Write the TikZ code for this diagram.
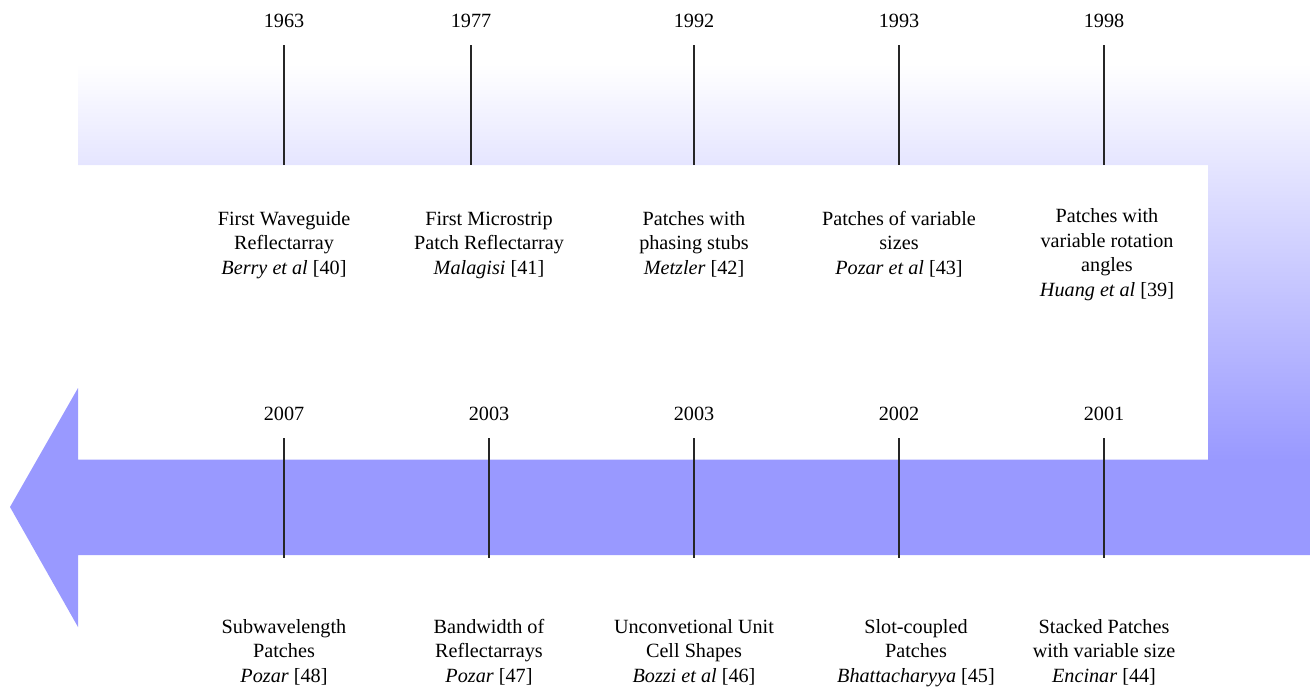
\documentclass[tikz,border=0pt]{standalone}
\usepackage{fontspec}
\setmainfont{Liberation Serif}
\definecolor{arrowblue}{RGB}{153,153,255}
\begin{document}
\begin{tikzpicture}[x=1pt,y=-1pt,
  yearlbl/.style={anchor=base,inner sep=0pt,font=\fontsize{20.2}{24.5}\selectfont},
  desc/.style={anchor=base,inner sep=0pt,align=center,font=\fontsize{20.2}{24.5}\selectfont},
  tick/.style={line width=2pt,draw=black!85}]
\useasboundingbox (0,0) rectangle (1310,691);
% gradient L-shaped band
\shade[top color=white,bottom color=arrowblue]
  (78,64) -- (1310,64) -- (1310,460) -- (1208,460) -- (1208,165) -- (78,165) -- cycle;
% solid arrow band
\fill[arrowblue] (1310,459.5) -- (1310,555) -- (78,555) -- (78,627) -- (10,507)
  -- (78,388) -- (78,459.5) -- cycle;
% top row
\foreach \n/\x/\yr in {1/284/1963,2/471/1977,3/694/1992,4/899/1993,5/1104/1998}{
  \node[yearlbl] (y\n) at (\x,27) {\yr};
  \coordinate (ta\n) at (\x,45);
  \coordinate (tb\n) at (\x,165);
  \draw[tick] (ta\n) -- (tb\n);
}
% bottom row
\foreach \n/\x/\yr in {6/284/2007,7/489/2003,8/694/2003,9/899/2002,10/1104/2001}{
  \node[yearlbl] (y\n) at (\x,420) {\yr};
  \coordinate (ta\n) at (\x,438);
  \coordinate (tb\n) at (\x,558);
  \draw[tick] (ta\n) -- (tb\n);
}
% descriptions top (anchor = baseline of last line)
\node[desc] (l1) at (284,274) {First Waveguide\\Reflectarray\\\textit{Berry et al} [40]};
\node[desc] (l2) at (489,274) {First Microstrip\\Patch Reflectarray\\\textit{Malagisi} [41]};
\node[desc] (l3) at (694,274) {Patches with\\phasing stubs\\\textit{Metzler} [42]};
\node[desc] (l4) at (899,274) {Patches of variable\\sizes\\\textit{Pozar et al} [43]};
\node[desc] (l5) at (1107,296) {Patches with\\variable rotation\\angles\\\textit{Huang et al} [39]};
% descriptions bottom
\node[desc] (l6) at (284,682) {Subwavelength\\Patches\\\textit{Pozar} [48]};
\node[desc] (l7) at (489,682) {Bandwidth of\\Reflectarrays\\\textit{Pozar} [47]};
\node[desc] (l8) at (694,682) {Unconvetional Unit\\Cell Shapes\\\textit{Bozzi et al} [46]};
\node[desc] (l9) at (916,682) {Slot-coupled\\Patches\\\textit{Bhattacharyya} [45]};
\node[desc] (l10) at (1104,682) {Stacked Patches\\with variable size\\\textit{Encinar} [44]};
\end{tikzpicture}
\end{document}
